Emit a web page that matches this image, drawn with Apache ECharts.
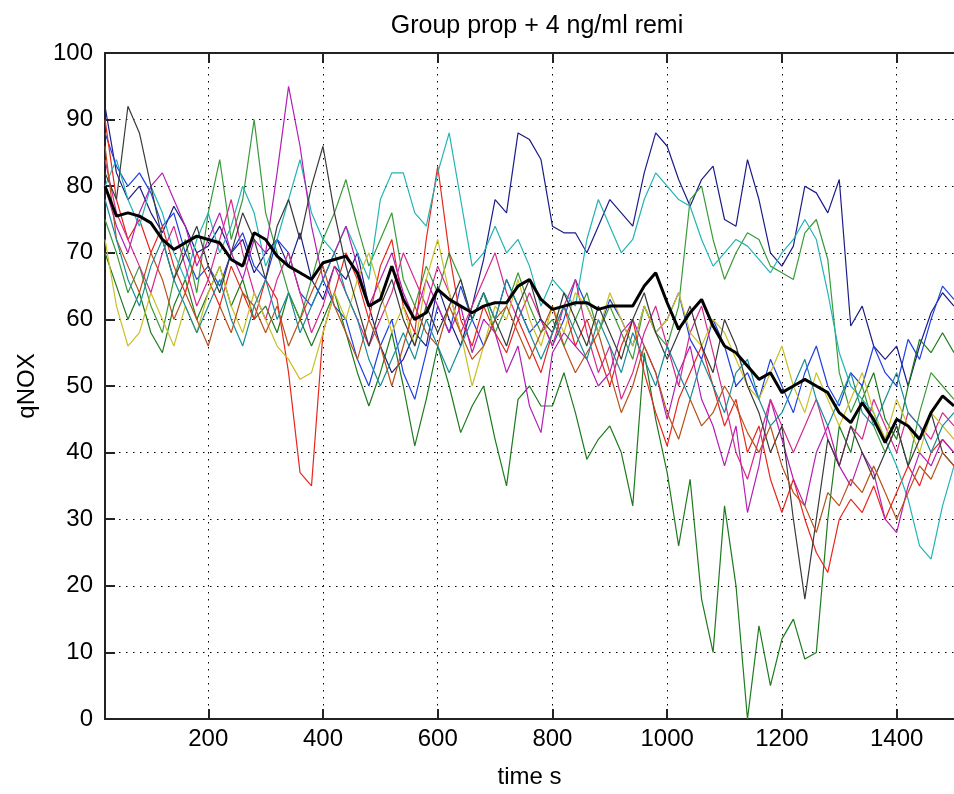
<!DOCTYPE html>
<html>
<head>
<meta charset="utf-8">
<script src="https://cdn.jsdelivr.net/npm/echarts@6/dist/echarts.min.js"></script>
<style>
html,body{margin:0;padding:0;background:#fff;}
#chart{width:954px;height:794px;}
</style>
</head>
<body>
<div id="chart"></div>
<script>
const chartTitle = 'Group prop + 4 ng/ml remi';
const xName = 'time s';
const yName = 'qNOX';
const xTicks = [200, 400, 600, 800, 1000, 1200, 1400];

const times = [20,40,60,80,100,120,140,160,180,200,
  220,240,260,280,300,320,340,360,380,400,
  420,440,460,480,500,520,540,560,580,600,
  620,640,660,680,700,720,740,760,780,800,
  820,840,860,880,900,920,940,960,980,1000,
  1020,1040,1060,1080,1100,1120,1140,1160,1180,1200,
  1220,1240,1260,1280,1300,1320,1340,1360,1380,1400,
  1420,1440,1460,1480,1500];

const navy = [92,82,78,80,76,73,77,74,70,71,
  74,70,72,67,70,72,68,73,66,63,
  68,66,70,62,56,52,54,58,56,65,
  60,56,62,69,78,76,88,87,84,74,
  73,73,70,74,78,76,74,82,88,86,
  81,77,81,83,75,74,84,78,70,68,
  71,80,79,76,81,59,62,56,54,56,
  50,56,61,64,62];
const blue = [88,83,80,82,79,74,76,70,66,68,
  65,70,73,68,66,72,70,64,62,66,
  62,60,54,50,56,60,52,48,55,62,
  58,65,60,56,60,66,62,58,60,56,
  60,66,62,58,63,60,56,62,58,60,
  64,57,54,60,56,50,52,48,54,50,
  46,52,56,50,47,52,50,56,52,50,
  57,54,60,65,63];
const greenDark = [70,65,60,64,58,55,62,66,60,64,
  68,62,66,60,62,58,64,60,56,60,
  64,58,52,47,52,58,50,41,48,56,
  50,43,47,50,42,35,48,50,47,47,
  52,46,39,42,44,40,32,55,45,37,
  26,36,18,10,32,20,0,14,5,12,
  15,9,10,30,44,40,48,52,45,42,
  50,57,55,58,55];
const green = [75,70,64,68,62,58,66,72,64,76,
  84,72,78,90,76,70,64,60,66,72,
  76,81,74,68,72,76,66,62,68,64,
  70,66,60,64,58,62,67,62,58,60,
  56,60,64,58,62,58,54,62,58,56,
  62,78,80,72,66,70,73,72,68,67,
  66,73,75,69,52,46,50,44,40,44,
  38,46,52,50,48];
const red = [90,78,72,75,70,74,68,64,70,66,
  62,68,64,60,66,63,52,37,35,58,
  64,70,66,60,68,72,62,58,72,83,
  70,60,56,62,58,55,60,56,52,58,
  62,56,60,55,50,56,60,52,46,41,
  48,52,56,50,44,48,40,44,36,31,
  36,30,25,22,30,33,31,35,30,34,
  38,35,40,42,40];
const cyan = [80,84,78,74,80,76,70,66,72,76,
  70,74,80,76,68,72,78,84,76,72,
  70,74,70,66,78,82,82,76,74,82,
  88,78,68,70,74,70,72,68,62,66,
  64,62,72,78,74,70,72,78,82,80,
  78,77,72,68,70,72,71,69,67,70,
  72,75,72,64,55,50,48,46,42,38,
  33,26,24,32,38];
const magenta = [80,74,70,76,80,82,78,74,68,72,
  76,70,66,72,70,82,95,86,74,66,
  70,74,68,62,66,70,64,60,66,62,
  58,62,55,60,58,52,56,47,43,55,
  58,56,54,50,52,58,60,56,52,45,
  52,56,48,44,38,44,31,38,48,42,
  36,32,40,44,38,35,40,37,30,28,
  35,40,38,42,40];
const pink = [84,76,72,68,64,70,74,68,62,66,
  72,78,70,64,60,66,70,64,58,62,
  68,64,60,56,60,64,70,66,62,68,
  64,58,62,66,70,64,60,64,60,56,
  62,66,58,52,56,48,52,58,62,56,
  50,58,62,55,48,40,36,42,48,44,
  40,44,48,42,38,44,42,48,44,40,
  46,44,42,46,44];
const yellow = [72,62,56,58,64,60,56,62,58,64,
  68,62,58,64,60,56,54,51,52,58,
  64,60,66,70,64,58,62,56,66,72,
  64,58,50,56,62,60,66,60,56,62,
  58,64,62,58,64,60,56,62,58,60,
  64,58,56,60,58,54,50,48,52,56,
  50,46,52,48,44,48,52,46,42,48,
  44,40,46,44,42];
const gray = [82,78,92,88,80,72,66,70,74,68,
  64,70,76,72,66,74,78,72,80,86,
  76,68,62,56,62,66,60,56,62,58,
  62,66,60,64,60,56,62,66,60,58,
  64,60,56,62,58,54,60,64,58,54,
  58,62,56,52,60,56,50,46,40,44,
  30,18,30,42,38,44,40,36,40,44,
  38,42,46,40,38];
const brown = [86,72,68,64,70,66,60,64,60,56,
  62,58,64,62,58,62,56,60,64,68,
  62,58,54,60,56,50,56,62,58,56,
  62,58,54,56,60,62,58,54,58,62,
  56,52,55,58,52,46,50,56,52,46,
  42,48,44,46,50,47,43,40,44,38,
  34,32,28,34,32,36,34,38,34,30,
  34,38,36,40,38];
const teal = [78,72,66,62,68,72,66,62,58,62,
  66,60,56,62,66,60,64,58,62,66,
  70,64,60,54,50,54,58,54,60,56,
  52,56,60,64,60,66,62,58,54,58,
  62,58,54,60,56,52,58,54,50,56,
  52,48,54,50,46,52,54,48,44,46,
  50,54,48,44,48,52,46,44,48,52,
  46,44,40,44,46];
const mean = [80,75.5,76,75.5,74.5,72,70.5,71.5,72.5,72,
  71.5,69,68,73,72,69.5,68,67,66,68.5,
  69,69.5,67,62,63,68,63,60,61,64.5,
  63,62,61,62,62.5,62.5,65,66,63,61.5,
  62,62.5,62.5,61.5,62,62,62,65,67,62.5,
  58.5,61,63,59,56,55,53,51,52,49,
  50,51,50,49,46,44.5,47.5,45,41.5,45,
  44,42,46,48.5,47];

const subjects = [
  {name: 'S1', values: navy, color: '#1c1c8a'},
  {name: 'S2', values: blue, color: '#2040e0'},
  {name: 'S3', values: greenDark, color: '#1d7a1d'},
  {name: 'S4', values: green, color: '#3a9a3a'},
  {name: 'S5', values: red, color: '#e8261c'},
  {name: 'S6', values: cyan, color: '#22b4b4'},
  {name: 'S7', values: magenta, color: '#b41eb4'},
  {name: 'S8', values: pink, color: '#d42a8c'},
  {name: 'S9', values: yellow, color: '#c8c028'},
  {name: 'S10', values: gray, color: '#3a3a3a'},
  {name: 'S11', values: brown, color: '#b8501a'},
  {name: 'S12', values: teal, color: '#188c9a'}
];

const pairs = arr => times.map((t, i) => [t, arr[i]]);
const FONT = 'Liberation Sans, Arial, sans-serif';
const gridDash = {color: '#000', width: 1, type: [1.5, 5.5]};

const series = subjects.map(s => ({
  name: s.name, type: 'line', data: pairs(s.values), showSymbol: false,
  lineStyle: {color: s.color, width: 1.2}, itemStyle: {color: s.color},
  silent: true, z: 2
}));
series.push({
  name: 'mean', type: 'line', data: pairs(mean), showSymbol: false,
  lineStyle: {color: '#000', width: 3}, silent: true, z: 3
});

const chart = echarts.init(document.getElementById('chart'), null, {renderer: 'canvas'});
chart.setOption({
  animation: false,
  backgroundColor: '#fff',
  title: {
    text: chartTitle, left: 532, top: 9, textAlign: 'center',
    textStyle: {fontFamily: FONT, fontSize: 25, fontWeight: 'normal', color: '#000'}
  },
  grid: {left: 105, top: 53, width: 857.7, height: 667, containLabel: false},
  xAxis: [{
    type: 'value', min: 20, max: 1500, position: 'bottom',
    name: xName, nameLocation: 'middle', nameGap: 46,
    nameTextStyle: {fontFamily: FONT, fontSize: 24, color: '#000'},
    axisLine: {show: true, lineStyle: {color: '#222', width: 2}},
    axisTick: {show: true, inside: true, length: 10, customValues: xTicks, lineStyle: {color: '#222', width: 2}},
    axisLabel: {customValues: xTicks, margin: 8, fontFamily: FONT, fontSize: 24, color: '#000',
      formatter: v => String(v)},
    splitLine: {show: true, lineStyle: gridDash}
  }, {
    type: 'value', min: 20, max: 1500, position: 'top',
    axisLine: {show: true, lineStyle: {color: '#222', width: 2}},
    axisTick: {show: true, inside: true, length: 10, customValues: xTicks, lineStyle: {color: '#222', width: 2}},
    axisLabel: {show: false},
    splitLine: {show: false}
  }],
  yAxis: [{
    type: 'value', min: 0, max: 100, interval: 10, position: 'left',
    name: yName, nameLocation: 'middle', nameGap: 66, nameRotate: 90,
    nameTextStyle: {fontFamily: FONT, fontSize: 24, color: '#000'},
    axisLine: {show: true, lineStyle: {color: '#222', width: 2}},
    axisTick: {show: true, inside: true, length: 10, lineStyle: {color: '#222', width: 2}},
    axisLabel: {margin: 12, fontFamily: FONT, fontSize: 24, color: '#000'},
    splitLine: {show: true, lineStyle: gridDash}
  }],
  series: series
});
</script>
</body>
</html>
